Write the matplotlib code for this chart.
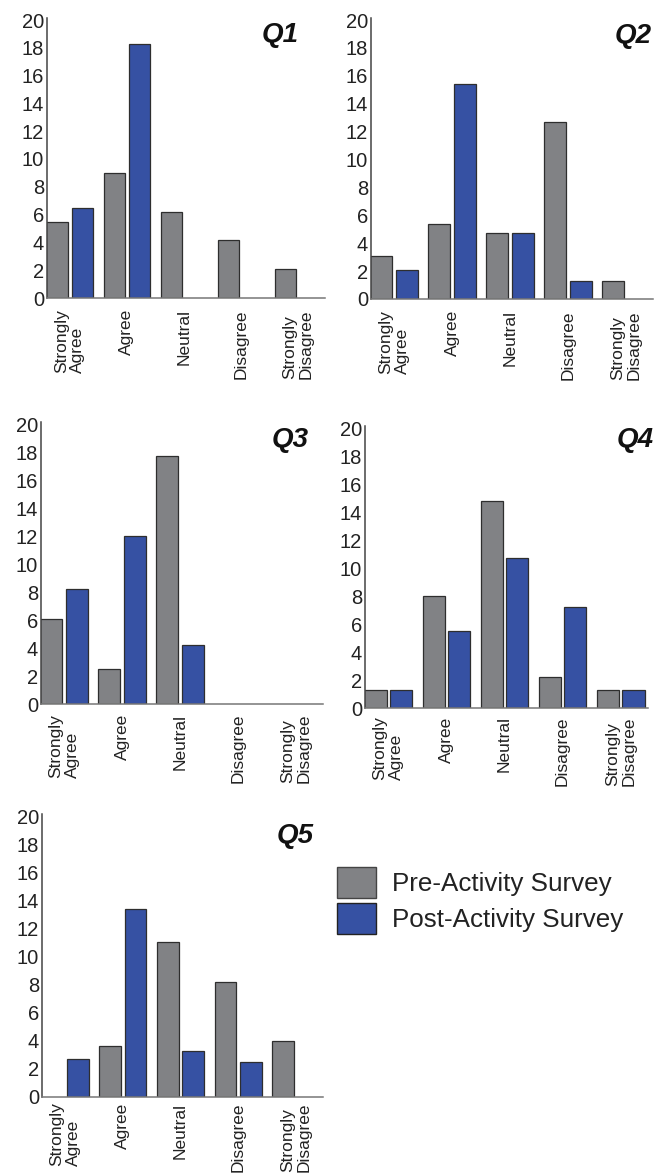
import matplotlib
matplotlib.use("Agg")
import matplotlib.pyplot as plt
import numpy as np
from matplotlib.patches import Patch

plt.rcParams['font.family'] = ['Liberation Sans', 'DejaVu Sans']

categories = ["Strongly\nAgree", "Agree", "Neutral", "Disagree", "Strongly\nDisagree"]
series_names = ["Pre-Activity Survey", "Post-Activity Survey"]
titles = ["Q1", "Q2", "Q3", "Q4", "Q5"]

q1_pre = [5.5, 9.0, 6.2, 4.2, 2.1]
q1_post = [6.5, 18.3, 0, 0, 0]
q2_pre = [3.1, 5.4, 4.7, 12.7, 1.3]
q2_post = [2.1, 15.4, 4.7, 1.3, 0]
q3_pre = [6.1, 2.5, 17.7, 0, 0]
q3_post = [8.2, 12.0, 4.2, 0, 0]
q4_pre = [1.3, 8.0, 14.8, 2.2, 1.3]
q4_post = [1.3, 5.5, 10.7, 7.2, 1.3]
q5_pre = [0, 3.6, 11.0, 8.2, 4.0]
q5_post = [2.7, 13.4, 3.3, 2.5, 0]

yticks = [0, 2, 4, 6, 8, 10, 12, 14, 16, 18, 20]

pre_data = [q1_pre, q2_pre, q3_pre, q4_pre, q5_pre]
post_data = [q1_post, q2_post, q3_post, q4_post, q5_post]

PRE_COLOR = "#818285"
POST_COLOR = "#3651a3"
EDGE = "#2e2e2e"

W, H = 662, 1175
fig = plt.figure(figsize=(W / 100, H / 100), dpi=100)

# (left px, right px, y0 px, y20 px, xlabel pad)
panels = [
    (47, 325, 298, 20, 8),
    (371, 653, 299, 20, 8),
    (41, 323, 704, 424, 7),
    (365, 648, 708, 428, 6),
    (42, 323, 1097, 816, 4),
]
# title right/top in px
title_pos = [(299, 22), (652, 23), (309, 427), (654, 427), (314, 823)]

YMAX = 20.15
x = np.arange(len(categories))
bw = 0.38
off = 0.22
for i, (l, r, y0, y20, pad) in enumerate(panels):
    top = y0 - (y0 - y20) * YMAX / 20
    ax = fig.add_axes([l / W, 1 - y0 / H, (r - l) / W, (y0 - top) / H])
    pre = np.array(pre_data[i])
    post = np.array(post_data[i])
    ax.bar(x - off, pre, bw, color=PRE_COLOR, edgecolor=EDGE,
           linewidth=[0.9 if v > 0 else 0 for v in pre], label=series_names[0])
    ax.bar(x + off, post, bw, color=POST_COLOR, edgecolor=EDGE,
           linewidth=[0.9 if v > 0 else 0 for v in post], label=series_names[1])
    ax.set_xlim(-0.4, 4.47)
    ax.set_ylim(0, YMAX)
    ax.set_yticks(yticks)
    ax.set_yticklabels([str(t) for t in yticks], fontsize=14.5, color="#222222")
    ax.set_xticks(x)
    ax.set_xticklabels(categories, rotation=90, fontsize=12.5, color="#222222",
                       va="top", ha="center")
    for lab in ax.get_xticklabels():
        lab.set_multialignment("left")
        lab.set_linespacing(1.1)
    ax.tick_params(axis="both", length=0)
    ax.tick_params(axis="x", pad=pad)
    ax.tick_params(axis="y", pad=2)
    for s in ("top", "right"):
        ax.spines[s].set_visible(False)
    ax.spines["left"].set_color("#444444")
    ax.spines["left"].set_linewidth(1.1)
    ax.spines["bottom"].set_color("#777777")
    ax.spines["bottom"].set_linewidth(1.1)
    ax.set_facecolor("none")
    tx, ty = title_pos[i]
    fig.text(tx / W, 1 - ty / H, titles[i], ha="right", va="top",
             fontsize=20, fontweight="bold", fontstyle="italic", color="#111111")

handles = [Patch(facecolor=PRE_COLOR, edgecolor="#444444", linewidth=1.0),
           Patch(facecolor=POST_COLOR, edgecolor="#222222", linewidth=1.0)]
fig.legend(handles, series_names, loc="upper left",
           bbox_to_anchor=(337 / W, 1 - 867 / H), frameon=False,
           fontsize=18.7, handlelength=1.5, handleheight=1.45,
           handletextpad=0.6, labelspacing=0.2, borderpad=0, borderaxespad=0,
           labelcolor="#222222")

fig.savefig("out.png", dpi=100, facecolor="white")
